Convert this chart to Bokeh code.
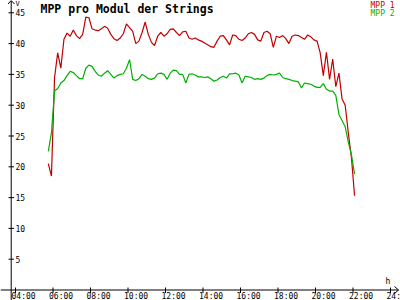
from bokeh.plotting import figure
from bokeh.models import Range1d
from bokeh.core.properties import value
from bokeh.embed import file_html
from bokeh.resources import INLINE

# ---------------- data ----------------
title_text = "MPP pro Modul der Strings"
series_names = ["MPP 1", "MPP 2"]
start_hour = 5.75          # 05:45
step_minutes = 10
mpp1 = [20.5, 18.5, 34.5, 38.5, 36.0, 40.7, 41.7, 41.2, 42.2, 41.3,
        40.8, 41.5, 44.3, 44.2, 42.4, 42.2, 42.1, 42.4, 42.8, 42.5,
        41.5, 40.8, 40.5, 40.9, 41.6, 43.2, 42.6, 42.0, 40.0, 40.4,
        41.8, 43.5, 41.5, 40.2, 39.7, 41.2, 41.8, 41.2, 41.6, 42.3,
        42.4, 41.8, 41.3, 41.9, 42.0, 40.9, 40.7, 40.9, 40.6, 40.4,
        40.1, 39.8, 39.5, 39.4, 40.4, 41.2, 41.3, 40.6, 39.8, 41.4,
        41.3, 40.7, 40.5, 40.9, 41.6, 41.8, 41.5, 40.6, 40.4, 41.8,
        42.0, 41.6, 39.4, 41.2, 41.0, 41.3, 40.8, 40.0, 41.2, 41.4,
        41.3, 41.0, 40.7, 41.4, 41.1, 40.6, 40.4, 38.5, 34.8, 38.6,
        34.2, 37.5, 33.0, 35.2, 31.0, 30.0, 25.5, 21.5, 15.3]
mpp2 = [22.5, 25.5, 32.3, 32.7, 33.6, 34.0, 34.8, 35.5, 35.3, 34.8,
        34.3, 34.3, 36.0, 36.5, 36.3, 35.5, 34.9, 34.7, 35.2, 35.6,
        35.0, 34.4, 34.8, 35.0, 35.1, 36.0, 37.4, 34.2, 34.0, 34.3,
        35.0, 34.7, 34.3, 34.2, 34.4, 35.1, 35.2, 35.0, 34.2, 35.2,
        35.7, 35.6, 35.0, 35.0, 33.6, 35.0, 35.1, 34.9, 34.6, 34.6,
        34.5, 34.6, 34.3, 33.9, 34.1, 34.5, 34.7, 34.4, 35.1, 35.1,
        35.2, 34.9, 33.6, 34.7, 34.6, 34.5, 34.2, 34.3, 34.2, 34.4,
        34.8, 35.0, 34.9, 35.0, 35.2, 34.5, 34.3, 34.2, 34.0, 33.9,
        33.8, 32.8, 33.6, 33.5, 33.4, 33.1, 32.9, 32.9, 33.5, 32.6,
        32.3, 32.3, 31.6, 28.5, 27.5, 26.5, 24.0, 22.0, 18.8]
x_tick_hours = [4, 6, 8, 10, 12, 14, 16, 18, 20, 22, 24]
x_tick_labels = ["04:00", "06:00", "08:00", "10:00", "12:00", "14:00",
                 "16:00", "18:00", "20:00", "22:00", "24:00"]
y_tick_values = [5, 10, 15, 20, 25, 30, 35, 40, 45]
y_tick_labels = ["5", "10", "15", "20", "25", "30", "35", "40", "45"]

hours = [start_hour + i * step_minutes / 60 for i in range(len(mpp1))]

# ---------------- layout helpers (pixel -> data) ----------------
W, H = 400, 300
X_TICK0_PX, HOUR0, PX_PER_H = 15.0, 4.0, 18.75
Y0_PX, PX_PER_V = 289.5, 6.16

def hx(px):
    return HOUR0 + (px - X_TICK0_PX) / PX_PER_H

def vy(py):
    return (Y0_PX - py) / PX_PER_V

RED = "#c00000"
GREEN = "#00b000"
FONT = value("DejaVu Sans Mono")

p = figure(width=W, height=H, output_backend="svg", toolbar_location=None,
           x_range=Range1d(hx(0), hx(W)), y_range=Range1d(vy(H), vy(0)),
           x_axis_location=None, y_axis_location=None, min_border=0)
p.outline_line_color = None
p.xgrid.visible = False
p.ygrid.visible = False
p.background_fill_color = "white"
p.border_fill_color = "white"

# axes lines
axis_x = hx(10.7)
p.segment(x0=[hx(0)], y0=[0], x1=[hx(398)], y1=[0], line_color="black", line_width=1)
p.segment(x0=[axis_x], y0=[vy(300)], x1=[axis_x], y1=[vy(0)], line_color="black", line_width=1)
# arrows
p.line(x=[hx(394), hx(398), hx(394)], y=[vy(286), 0, vy(293)], line_color="black", line_width=1)
p.line(x=[hx(7.5), axis_x, hx(14)], y=[vy(3.5), vy(0), vy(3.5)], line_color="black", line_width=1)

# y ticks
p.segment(x0=[hx(8)] * len(y_tick_values), y0=y_tick_values,
          x1=[hx(13.5)] * len(y_tick_values), y1=y_tick_values,
          line_color="black", line_width=1)
p.text(x=[hx(15)] * len(y_tick_values), y=y_tick_values, text=y_tick_labels,
       text_font=FONT, text_font_size="8px", text_baseline="middle",
       text_align="left", text_color="black")

# x ticks
p.segment(x0=x_tick_hours, y0=[vy(287)] * len(x_tick_hours),
          x1=x_tick_hours, y1=[vy(292.5)] * len(x_tick_hours),
          line_color="black", line_width=1)
p.text(x=[h - 4 / PX_PER_H for h in x_tick_hours], y=[vy(300)] * len(x_tick_hours),
       text=x_tick_labels, text_font=FONT, text_font_size="8px",
       text_baseline="bottom", text_align="left", text_color="black")

# unit labels
p.text(x=[hx(385)], y=[vy(285)], text=["h"], text_font=FONT, text_font_size="8px",
       text_baseline="bottom", text_align="left", text_color="black")
p.text(x=[hx(15)], y=[vy(7)], text=["V"], text_font=FONT, text_font_size="7px",
       text_baseline="bottom", text_align="left", text_color="black")

# data lines
p.line(x=hours, y=mpp1, line_color=RED, line_width=1.2)
p.line(x=hours, y=mpp2, line_color=GREEN, line_width=1.2)

# title
p.text(x=[hx(40)], y=[vy(1)], text=[title_text], text_font=FONT,
       text_font_size="11.5px", text_font_style="bold", text_baseline="top",
       text_align="left", text_color="black")

# legend texts
p.text(x=[hx(370)], y=[vy(0.5)], text=[series_names[0]], text_font=FONT,
       text_font_size="8px", text_baseline="top", text_align="left", text_color=RED)
p.text(x=[hx(370)], y=[vy(8)], text=[series_names[1]], text_font=FONT,
       text_font_size="8px", text_baseline="top", text_align="left", text_color=GREEN)

open("out.html", "w").write(file_html(p, INLINE))
